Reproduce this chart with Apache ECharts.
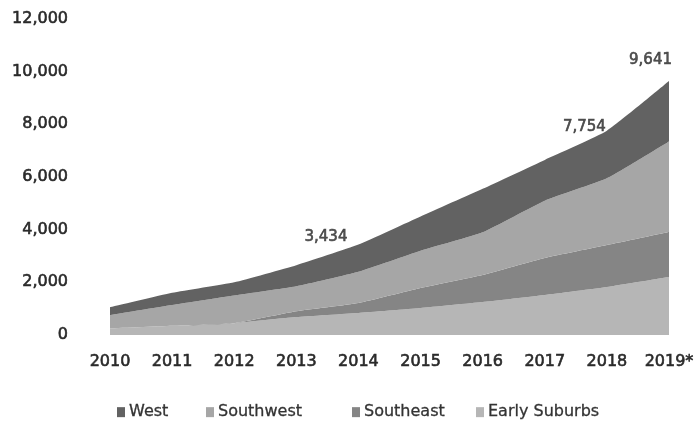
<!DOCTYPE html>
<html>
<head>
<meta charset="utf-8">
<script src="https://cdn.jsdelivr.net/npm/echarts@6/dist/echarts.min.js"></script>
<style>
  html, body { margin: 0; padding: 0; background: #fff; }
  #chart { width: 699px; height: 424px; }
</style>
</head>
<body>
<div id="chart"></div>
<script>
// Years on the horizontal axis (2019 is an estimate)
const years = ['2010', '2011', '2012', '2013', '2014', '2015', '2016', '2017', '2018', '2019*'];

// Stacked components, bottom to top
const earlySuburbs = [250, 350, 450, 680, 835, 1025, 1250, 1518, 1820, 2200];
const southeast    = [0, 0, 0, 220, 380, 758, 1027, 1404, 1595, 1709];
const southwest    = [510, 790, 1050, 950, 1186, 1417, 1623, 2178, 2535, 3441];
const west         = [290, 460, 500, 800, 1033, 1300, 1650, 1550, 1804, 2291];

// Years whose stacked total is annotated
const labelledYears = ['2014', '2018', '2019*'];

const yTicks = [0, 2000, 4000, 6000, 8000, 10000, 12000];

const totals = years.map((_, i) => earlySuburbs[i] + southeast[i] + southwest[i] + west[i]);

const colors = {
  'West': '#626262',
  'Southwest': '#a6a6a6',
  'Southeast': '#858585',
  'Early Suburbs': '#b6b6b6'
};

const font = 'DejaVu Sans';
const textColor = '#2a2a2a';
// a thin outline in the text colour gives the labels a semibold look
const heavy = { textBorderColor: textColor, textBorderWidth: 0.6 };

// Where each total annotation sits relative to its point
const labelOffsets = { '2014': [-11, -7], '2018': [-1, -4], '2019*': [3, -21] };

function areaSeries(name, values) {
  return {
    name: name,
    type: 'line',
    stack: 'total',
    data: values,
    symbol: 'none',
    smooth: 0.15,
    lineStyle: { width: 0 },
    areaStyle: { color: colors[name], opacity: 1 },
    itemStyle: { color: colors[name] },
    silent: true
  };
}

function legendAt(name, left) {
  return {
    data: [name],
    left: left,
    top: 404,
    icon: 'rect',
    itemWidth: 8,
    itemHeight: 10,
    itemGap: 0,
    padding: 0,
    textStyle: Object.assign({ fontFamily: font, fontSize: 16, color: '#333', padding: [0, 0, 0, -1] },
                             { textBorderColor: '#333', textBorderWidth: 0.3 }),
    selectedMode: false
  };
}

const fmt = v => v.toLocaleString('en-US');

const chart = echarts.init(document.getElementById('chart'), null, { renderer: 'canvas' });

chart.setOption({
  backgroundColor: '#ffffff',
  animation: false,
  grid: { left: 110, right: 30, top: 19, bottom: 89 },
  legend: [
    legendAt('West', 117),
    legendAt('Southwest', 206),
    legendAt('Southeast', 352),
    legendAt('Early Suburbs', 476)
  ],
  xAxis: {
    type: 'category',
    data: years,
    boundaryGap: false,
    axisLine: { show: false },
    axisTick: { show: false },
    axisLabel: Object.assign({
      margin: 19,
      fontFamily: font,
      fontSize: 16,
      color: textColor,
      interval: 0
    }, heavy)
  },
  yAxis: {
    type: 'value',
    min: yTicks[0],
    max: yTicks[yTicks.length - 1],
    interval: yTicks[1] - yTicks[0],
    splitLine: { show: false },
    axisLine: { show: false },
    axisTick: { show: false },
    axisLabel: Object.assign({
      margin: 42,
      fontFamily: font,
      fontSize: 16,
      color: textColor,
      formatter: v => fmt(v)
    }, heavy)
  },
  series: [
    areaSeries('Early Suburbs', earlySuburbs),
    areaSeries('Southeast', southeast),
    areaSeries('Southwest', southwest),
    areaSeries('West', west),
    {
      name: 'totals',
      type: 'scatter',
      symbolSize: 0,
      silent: true,
      z: 10,
      data: labelledYears.map(y => {
        const i = years.indexOf(y);
        return {
          value: [y, totals[i]],
          label: Object.assign({
            show: true,
            position: 'left',
            distance: 0,
            offset: labelOffsets[y],
            formatter: () => fmt(totals[i]),
            fontFamily: font,
            fontSize: 15,
            color: textColor
          }, heavy)
        };
      })
    }
  ]
});
</script>
</body>
</html>
